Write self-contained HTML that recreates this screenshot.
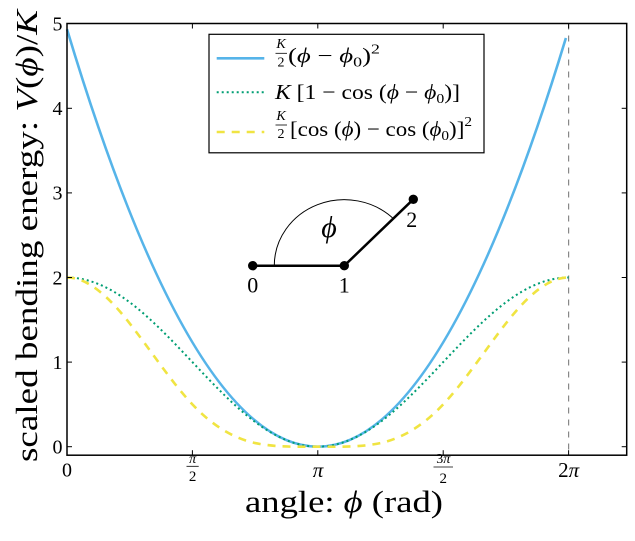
<!DOCTYPE html>
<html><head><meta charset="utf-8">
<style>
html,body{margin:0;padding:0;background:#fff;}
svg{display:block;}
text{font-family:"Liberation Serif","DejaVu Serif",serif;fill:#000;}
.it{font-style:italic;}
</style></head>
<body>
<svg width="635" height="541" viewBox="0 0 635 541" xmlns="http://www.w3.org/2000/svg">
<rect x="0" y="0" width="635" height="541" fill="#fff"/>

<line x1="568.6" y1="23.5" x2="568.6" y2="455.2" stroke="#888" stroke-width="1.2" stroke-dasharray="6,6"/>

<path d="M67,29.2 Q192.4,446.7 317.8,446.7 Q441.9,446.7 565.9,38.0" fill="none" stroke="#56B4E9" stroke-width="2.6"/>

<path d="M67,277.5 C87.90,277.5 108.80,286.62 129.70,302.28 C150.60,317.94 171.50,339.95 192.40,362.1 C213.30,384.25 234.19,406.26 255.09,421.92 C275.99,437.58 296.89,446.7 317.79,446.7 C338.69,446.7 359.59,437.58 380.49,421.92 C401.39,406.26 422.29,384.25 443.19,362.1 C464.09,339.95 484.99,317.94 505.89,302.28 C526.79,286.62 547.68,277.5 568.58,277.5" fill="none" stroke="#009E73" stroke-width="2" stroke-dasharray="2,3"/>

<path d="M67,277.5 C87.90,277.5 108.80,296.69 129.70,323.43 C150.60,350.17 171.50,382.25 192.40,404.4 C213.30,426.55 234.19,438.48 255.09,443.07 C275.99,447.4 296.89,446.7 317.79,446.7 C338.69,446.7 359.59,447.4 380.49,443.07 C401.39,438.48 422.29,426.55 443.19,404.4 C464.09,382.25 484.99,350.17 505.89,323.43 C526.79,296.69 547.68,277.5 568.58,277.5" fill="none" stroke="#F0E442" stroke-width="2.6" stroke-dasharray="8,7"/>

<rect x="67" y="23.5" width="559.7" height="431.7" fill="none" stroke="#000" stroke-width="1.5"/>

<g stroke="#000" stroke-width="1">
  <line x1="192.4" y1="455.2" x2="192.4" y2="450.2"/><line x1="192.4" y1="23.5" x2="192.4" y2="28.5"/>
  <line x1="317.8" y1="455.2" x2="317.8" y2="450.2"/><line x1="317.8" y1="23.5" x2="317.8" y2="28.5"/>
  <line x1="443.2" y1="455.2" x2="443.2" y2="450.2"/><line x1="443.2" y1="23.5" x2="443.2" y2="28.5"/>
  <line x1="568.6" y1="455.2" x2="568.6" y2="450.2"/><line x1="568.6" y1="23.5" x2="568.6" y2="28.5"/>
  <line x1="67" y1="446.7" x2="72" y2="446.7"/><line x1="626.7" y1="446.7" x2="621.7" y2="446.7"/>
  <line x1="67" y1="362.1" x2="72" y2="362.1"/><line x1="626.7" y1="362.1" x2="621.7" y2="362.1"/>
  <line x1="67" y1="277.5" x2="72" y2="277.5"/><line x1="626.7" y1="277.5" x2="621.7" y2="277.5"/>
  <line x1="67" y1="192.9" x2="72" y2="192.9"/><line x1="626.7" y1="192.9" x2="621.7" y2="192.9"/>
  <line x1="67" y1="108.3" x2="72" y2="108.3"/><line x1="626.7" y1="108.3" x2="621.7" y2="108.3"/>
</g>

<g font-size="20" text-anchor="end">
  <text x="62.5" y="453.5">0</text>
  <text x="62.5" y="368.9">1</text>
  <text x="62.5" y="284.3">2</text>
  <text x="62.5" y="199.7">3</text>
  <text x="62.5" y="115.1">4</text>
  <text x="62.5" y="30.5">5</text>
</g>

<g text-anchor="middle">
  <text x="67" y="476.5" font-size="20">0</text>
  <text x="192.6" y="463" font-size="14" class="it">π</text>
  <line x1="186.5" y1="466.3" x2="198.7" y2="466.3" stroke="#000" stroke-width="0.8"/>
  <text x="192.6" y="481" font-size="15">2</text>
  <text x="318" y="477" font-size="21" class="it">π</text>
  <text x="443.3" y="463" font-size="14">3<tspan class="it">π</tspan></text>
  <line x1="433.5" y1="467" x2="453" y2="467" stroke="#000" stroke-width="0.8"/>
  <text x="443.3" y="483" font-size="15">2</text>
  <text x="568.7" y="477" font-size="21">2<tspan class="it">π</tspan></text>
</g>

<text x="245" y="512" font-size="31" textLength="198" lengthAdjust="spacingAndGlyphs">angle:  <tspan class="it">ϕ</tspan> (rad)</text>

<text transform="translate(37,462) rotate(-90)" font-size="31" textLength="452" lengthAdjust="spacingAndGlyphs">scaled bending energy:  <tspan class="it">V</tspan>(<tspan class="it">ϕ</tspan>)/<tspan class="it">K</tspan></text>

<rect x="209" y="34.3" width="275" height="118.5" fill="#fff" stroke="#000" stroke-width="1.2"/>
<line x1="216.7" y1="58.3" x2="264.3" y2="58.3" stroke="#56B4E9" stroke-width="2.6"/>
<line x1="216.7" y1="92.3" x2="264.3" y2="92.3" stroke="#009E73" stroke-width="2" stroke-dasharray="2,3"/>
<line x1="216.7" y1="132" x2="264.3" y2="132" stroke="#F0E442" stroke-width="2.6" stroke-dasharray="8,7"/>

<text x="281" y="48" font-size="14" class="it" text-anchor="middle">K</text>
<line x1="275.5" y1="53.3" x2="287" y2="53.3" stroke="#000" stroke-width="0.8"/>
<text x="281" y="66.5" font-size="14" text-anchor="middle">2</text>
<text x="288" y="62.5" font-size="21" textLength="92" lengthAdjust="spacingAndGlyphs">(<tspan class="it">ϕ</tspan> − <tspan class="it">ϕ</tspan><tspan font-size="14" dy="4">0</tspan><tspan dy="-4">)</tspan><tspan font-size="14" dy="-9">2</tspan></text>

<text x="275" y="99" font-size="21" textLength="185" lengthAdjust="spacingAndGlyphs"><tspan class="it">K</tspan> [1 − cos (<tspan class="it">ϕ</tspan> − <tspan class="it">ϕ</tspan><tspan font-size="14" dy="4">0</tspan><tspan dy="-4">)]</tspan></text>

<text x="281" y="120" font-size="14" class="it" text-anchor="middle">K</text>
<line x1="275.5" y1="125" x2="287" y2="125" stroke="#000" stroke-width="0.8"/>
<text x="281" y="138" font-size="14" text-anchor="middle">2</text>
<text x="290" y="136" font-size="21" textLength="182" lengthAdjust="spacingAndGlyphs">[cos (<tspan class="it">ϕ</tspan>) − cos (<tspan class="it">ϕ</tspan><tspan font-size="14" dy="4">0</tspan><tspan dy="-4">)]</tspan><tspan font-size="14" dy="-10">2</tspan></text>

<path d="M274.3,265.7 A70,66 0 0 1 393.8,219.0" fill="none" stroke="#000" stroke-width="1"/>
<line x1="252.7" y1="265.7" x2="344.3" y2="265.7" stroke="#000" stroke-width="2.5"/>
<line x1="344.3" y1="265.7" x2="413.3" y2="199.3" stroke="#000" stroke-width="2.5"/>
<circle cx="252.7" cy="265.7" r="4.7" fill="#000"/>
<circle cx="344.3" cy="265.7" r="4.7" fill="#000"/>
<circle cx="413.3" cy="199.3" r="4.7" fill="#000"/>
<text x="329" y="237" font-size="30" class="it" text-anchor="middle">ϕ</text>
<text x="252.7" y="292.5" font-size="22" text-anchor="middle">0</text>
<text x="344.3" y="292.5" font-size="22" text-anchor="middle">1</text>
<text x="411.7" y="227" font-size="22" text-anchor="middle">2</text>
</svg>
</body></html>
